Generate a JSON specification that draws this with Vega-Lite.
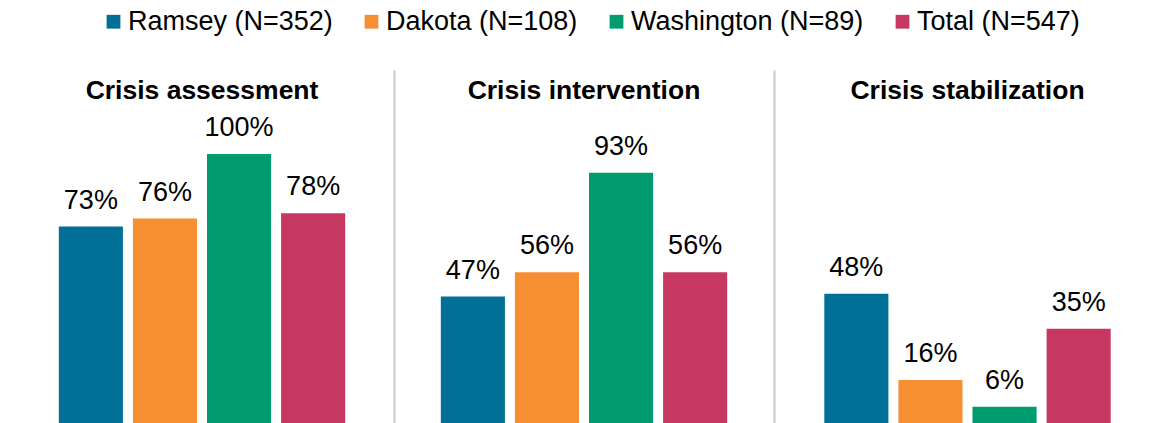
{
  "$schema": "https://vega.github.io/schema/vega-lite/v6.json",
  "padding": {"top": 8, "left": 10, "right": 0, "bottom": 0},
  "background": "white",
  "data": {"values": [
    {"service": "Crisis assessment", "county": "Ramsey (N=352)", "value": 0.73},
    {"service": "Crisis assessment", "county": "Dakota (N=108)", "value": 0.76},
    {"service": "Crisis assessment", "county": "Washington (N=89)", "value": 1.00},
    {"service": "Crisis assessment", "county": "Total (N=547)", "value": 0.78},
    {"service": "Crisis intervention", "county": "Ramsey (N=352)", "value": 0.47},
    {"service": "Crisis intervention", "county": "Dakota (N=108)", "value": 0.56},
    {"service": "Crisis intervention", "county": "Washington (N=89)", "value": 0.93},
    {"service": "Crisis intervention", "county": "Total (N=547)", "value": 0.56},
    {"service": "Crisis stabilization", "county": "Ramsey (N=352)", "value": 0.48},
    {"service": "Crisis stabilization", "county": "Dakota (N=108)", "value": 0.16},
    {"service": "Crisis stabilization", "county": "Washington (N=89)", "value": 0.06},
    {"service": "Crisis stabilization", "county": "Total (N=547)", "value": 0.35}
  ]},
  "spacing": 0,
  "config": {
    "view": {"stroke": null},
    "font": "Liberation Sans",
    "title": {"fontSize": 26.5, "fontWeight": "bold", "color": "black", "anchor": "middle", "offset": -34, "font": "Liberation Sans"}
  },
  "hconcat": [
    {
      "title": "Crisis assessment",
      "width": 384, "height": 353,
      "transform": [{"filter": "datum.service === 'Crisis assessment'"}],
      "encoding": {
        "x": {"field": "county", "type": "nominal", "sort": null, "axis": null,
              "scale": {"paddingInner": 0.135, "paddingOuter": 0.659}},
        "y": {"field": "value", "type": "quantitative", "axis": null,
              "scale": {"domain": [0, 1.312], "nice": false, "zero": true}}
      },
      "layer": [
        {"mark": {"type": "bar"},
         "encoding": {"color": {"field": "county", "type": "nominal", "sort": null,
            "scale": {"domain": ["Ramsey (N=352)", "Dakota (N=108)", "Washington (N=89)", "Total (N=547)"],
                      "range": ["#007096", "#f58f31", "#009b6e", "#c63860"]},
            "legend": {"orient": "none", "legendX": 90, "legendY": -62, "direction": "horizontal", "title": null,
                       "symbolType": "square", "symbolSize": 190, "symbolStrokeWidth": 0, "symbolOffset": 0,
                       "labelFontSize": 27, "labelColor": "black", "labelFont": "Liberation Sans",
                       "labelOffset": 1, "columnPadding": 25, "labelLimit": 400}}}},
        {"mark": {"type": "text", "fontSize": 27, "baseline": "alphabetic", "dy": -18, "color": "black"},
         "encoding": {"text": {"field": "value", "type": "quantitative", "format": ".0%"}}}
      ]
    },
    {
      "title": "Crisis intervention",
      "width": 380, "height": 353,
      "transform": [{"filter": "datum.service === 'Crisis intervention'"}],
      "encoding": {
        "x": {"field": "county", "type": "nominal", "sort": null, "axis": null,
              "scale": {"paddingInner": 0.135, "paddingOuter": 0.632}},
        "y": {"field": "value", "type": "quantitative",
              "axis": {"labels": false, "ticks": false, "grid": false, "title": null, "domainColor": "#c8c8c8", "domainWidth": 2},
              "scale": {"domain": [0, 1.312], "nice": false, "zero": true}}
      },
      "layer": [
        {"mark": {"type": "bar"},
         "encoding": {"color": {"field": "county", "type": "nominal", "sort": null}}},
        {"mark": {"type": "text", "fontSize": 27, "baseline": "alphabetic", "dy": -18, "color": "black"},
         "encoding": {"text": {"field": "value", "type": "quantitative", "format": ".0%"}}}
      ]
    },
    {
      "title": "Crisis stabilization",
      "width": 387, "height": 353,
      "transform": [{"filter": "datum.service === 'Crisis stabilization'"}],
      "encoding": {
        "x": {"field": "county", "type": "nominal", "sort": null, "axis": null,
              "scale": {"paddingInner": 0.135, "paddingOuter": 0.679}},
        "y": {"field": "value", "type": "quantitative",
              "axis": {"labels": false, "ticks": false, "grid": false, "title": null, "domainColor": "#c8c8c8", "domainWidth": 2},
              "scale": {"domain": [0, 1.312], "nice": false, "zero": true}}
      },
      "layer": [
        {"mark": {"type": "bar"},
         "encoding": {"color": {"field": "county", "type": "nominal", "sort": null}}},
        {"mark": {"type": "text", "fontSize": 27, "baseline": "alphabetic", "dy": -18, "color": "black"},
         "encoding": {"text": {"field": "value", "type": "quantitative", "format": ".0%"}}}
      ]
    }
  ],
  "resolve": {"scale": {"y": "independent", "x": "independent"}}
}
